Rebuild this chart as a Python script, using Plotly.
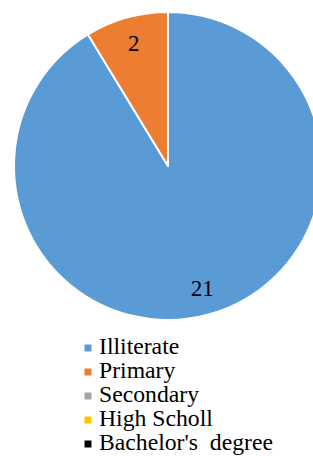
import plotly.graph_objects as go

categories = ["Illiterate", "Primary", "Secondary", "High Scholl", "Bachelor's\u00a0 degree"]
values = [21, 2, 0, 0, 0]
colors = ["#5B9BD5", "#ED7D31", "#A5A5A5", "#FFC000", "#000000"]
legend_rows = list(range(len(categories)))

FONT = "Liberation Serif"
W, H = 330, 456
pie_domain = dict(x=[14 / W, 322 / W], y=[(H - 320) / H, (H - 12) / H])

fig = go.Figure()

# coloured slices
fig.add_trace(go.Pie(
    labels=categories,
    values=values,
    marker=dict(colors=colors, line=dict(color="white", width=2)),
    sort=False,
    direction="clockwise",
    rotation=0,
    textinfo="none",
    showlegend=False,
    hoverinfo="label+value",
    domain=pie_domain,
))

# transparent ring on top, only to place the value labels near the rim
fig.add_trace(go.Pie(
    labels=categories,
    values=values,
    marker=dict(colors=["rgba(0,0,0,0)"] * len(categories), line=dict(width=0)),
    hole=0.65,
    sort=False,
    direction="clockwise",
    rotation=0,
    textinfo="value",
    textposition="inside",
    insidetextorientation="horizontal",
    textfont=dict(family=FONT, size=23, color="black"),
    showlegend=False,
    hoverinfo="skip",
    domain=pie_domain,
))

# legend drawn as markers + text on a hidden axis
fig.add_trace(go.Scatter(
    x=[88] * len(categories), y=legend_rows, mode="markers",
    marker=dict(symbol="square", size=7, color=colors),
    showlegend=False, hoverinfo="skip",
))
fig.add_trace(go.Scatter(
    x=[99] * len(categories), y=legend_rows, mode="text",
    text=categories, textposition="middle right",
    textfont=dict(family=FONT, size=23.7, color="black"),
    showlegend=False, hoverinfo="skip",
))

fig.update_layout(
    width=W, height=H,
    margin=dict(l=0, r=0, t=0, b=0),
    paper_bgcolor="white", plot_bgcolor="rgba(0,0,0,0)",
    xaxis=dict(range=[0, W], domain=[0, 1], visible=False, fixedrange=True),
    yaxis=dict(range=[4.5, -0.5], domain=[0, 120 / H], visible=False, fixedrange=True),
    showlegend=False,
)

fig.write_html(
    "out.html",
    config={"displayModeBar": False},
    post_script="document.body.style.margin='0';document.body.style.overflow='hidden';",
)
